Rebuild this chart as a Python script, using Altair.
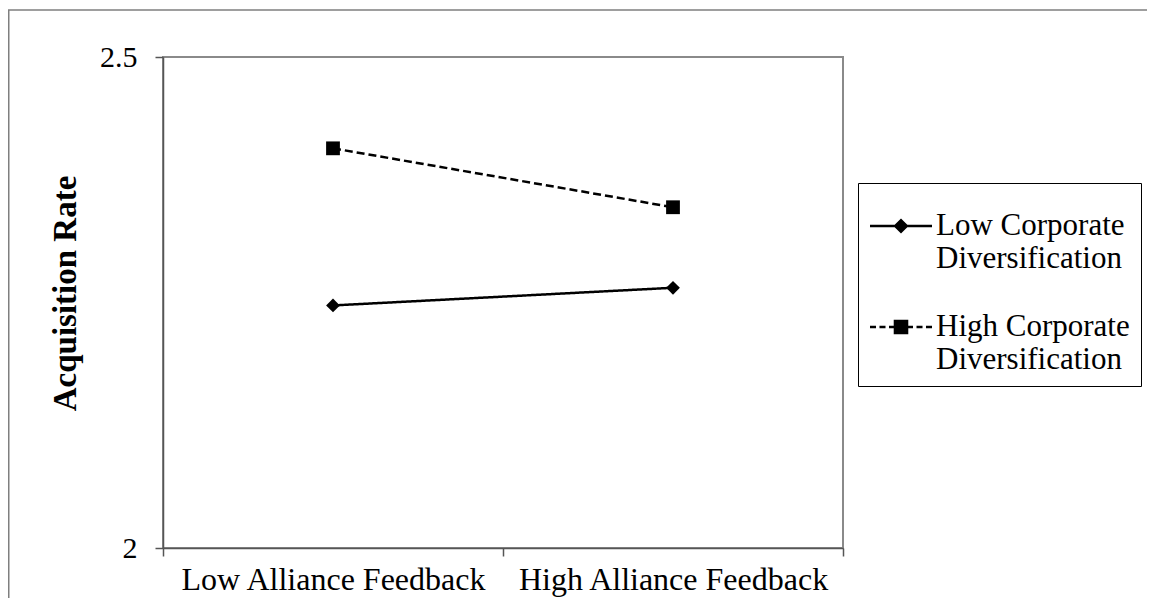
import altair as alt
import pandas as pd

# ---- data ----
categories = ["Low Alliance Feedback", "High Alliance Feedback"]
series_names = ["Low Corporate Diversification", "High Corporate Diversification"]
low_div = [2.247, 2.265]
high_div = [2.407, 2.347]
y_ticks = [2, 2.5]

rows = []
for s, vals in zip(series_names, [low_div, high_div]):
    for c, v in zip(categories, vals):
        rows.append({"feedback": c, "series": s, "rate": v})
df = pd.DataFrame(rows)

FONT = "Liberation Serif"
PW, PH = 680, 491
PAD_L, PAD_T = 155, 49
TOTAL_W, TOTAL_H = 1139, 590


def f(v):
    return ("%.3f" % v).rstrip("0").rstrip(".")


# legend symbols: a line segment with the marker in the middle, all as filled
# sub-paths (unit coordinates, Vega scales them by sqrt(symbolSize)/2)
def diamond(r):
    return f"M0,{f(-r)}L{f(r)},0L0,{f(r)}L{f(-r)},0Z"


def square(r):
    return f"M{f(-r)},{f(-r)}L{f(r)},{f(-r)}L{f(r)},{f(r)}L{f(-r)},{f(r)}Z"


def bar(a, b, h=0.04):
    return f"M{f(a)},{f(-h)}L{f(b)},{f(-h)}L{f(b)},{f(h)}L{f(a)},{f(h)}Z"


low_path = bar(-1, 1) + diamond(0.245)
dash_segs = [(-1, -0.806), (-0.694, -0.5), (-0.387, -0.226), (0.226, 0.387), (0.5, 0.694), (0.806, 1)]
high_path = "".join(bar(a, b) for a, b in dash_segs) + square(0.235)

x_enc = alt.X(
    "feedback:N",
    sort=categories,
    scale=alt.Scale(type="band", paddingInner=0, paddingOuter=0),
    axis=alt.Axis(
        title=None,
        labelAngle=0,
        tickBand="extent",
        tickSize=8,
        labelPadding=8,
        labelFontSize=32,
        labelLimit=500,
    ),
)
y_enc = alt.Y(
    "rate:Q",
    scale=alt.Scale(domain=[2, 2.5], nice=False, zero=False),
    axis=alt.Axis(
        values=y_ticks,
        format="~g",
        tickSize=8,
        labelPadding=18,
        labelFontSize=30,
        grid=False,
        title="Acquisition Rate",
        titleFontSize=33,
        titleFontWeight="bold",
        titleAngle=270,
        titleX=-98,
        titleY=236,
        titleAlign="center",
        titleBaseline="middle",
    ),
)

base = alt.Chart(df)

legend_layer = base.mark_point(filled=True, color="black", opacity=0).encode(
    x=x_enc,
    y=y_enc,
    shape=alt.Shape(
        "series:N",
        scale=alt.Scale(domain=series_names, range=[low_path, high_path]),
        legend=alt.Legend(
            title=None,
            orient="none",
            legendX=695,
            legendY=126,
            symbolSize=3844,
            symbolFillColor="black",
            symbolOpacity=1,
            labelFont=FONT,
            labelFontSize=31,
            labelColor="black",
            labelLimit=400,
            labelOffset=3,
            labelBaseline="middle",
            labelExpr="[replace(datum.label, ' Diversification', ''), 'Diversification']",
            strokeColor="black",
            fillColor="white",
            padding=11,
            rowPadding=21,
        ),
    ),
)

lines = base.mark_line(color="black", strokeWidth=2.5).encode(
    x=x_enc,
    y=y_enc,
    detail="series:N",
    strokeDash=alt.StrokeDash(
        "series:N",
        scale=alt.Scale(domain=series_names, range=[[1, 0], [8, 4]]),
        legend=None,
    ),
)

points = base.mark_point(filled=True, color="black", opacity=1, size=190).encode(
    x=x_enc,
    y=y_enc,
    shape=alt.Shape(
        "series:N",
        scale=alt.Scale(domain=series_names, range=["diamond", "square"]),
        legend=None,
    ),
)

frame = alt.Chart(alt.Data(values=[{"k": 1}])).mark_rect(
    filled=False, stroke="#7f7f7f", strokeWidth=1.5
).encode(
    x=alt.value(-PAD_L + 0.75),
    x2=alt.value(TOTAL_W + 20),
    y=alt.value(-PAD_T + 2),
    y2=alt.value(TOTAL_H + 20),
)

chart = (
    alt.layer(frame, legend_layer, lines, points)
    .resolve_scale(shape="independent")
    .properties(
        width=PW,
        height=PH,
        padding={"left": PAD_L, "top": PAD_T, "right": TOTAL_W - PAD_L - PW, "bottom": TOTAL_H - PAD_T - PH},
        autosize=alt.AutoSizeParams(type="none"),
        background="white",
    )
    .configure_view(stroke="#8a8a8a", strokeWidth=2)
    .configure_axis(
        domainColor="#555555",
        tickColor="#555555",
        domainWidth=1.5,
        tickWidth=1.5,
        labelFont=FONT,
        labelColor="black",
        titleFont=FONT,
        titleColor="black",
    )
)

chart.save("out.html", embed_options={"renderer": "svg", "actions": False})
